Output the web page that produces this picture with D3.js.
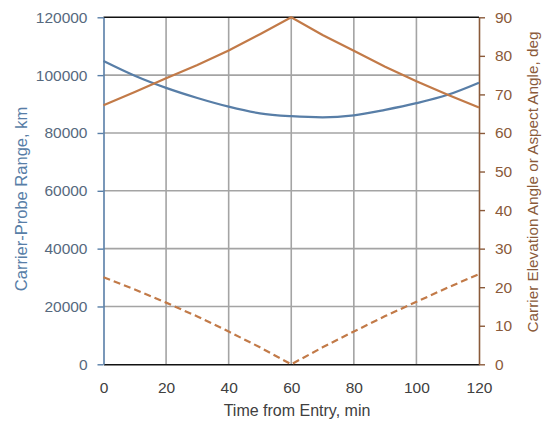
<!DOCTYPE html>
<html>
<head>
<meta charset="utf-8">
<script src="https://cdn.jsdelivr.net/npm/d3@7"></script>
<style>
  html, body { margin: 0; padding: 0; background: #fff; }
  svg { display: block; font-family: "Liberation Sans", Arial, sans-serif; }
</style>
</head>
<body>
<svg id="chart" width="542" height="423"></svg>
<script>
// Time from entry (min)
const timeMin = [0, 10, 20, 30, 40, 50, 60, 70, 80, 90, 100, 110, 120];
// Carrier-probe range (km), left axis
const rangeKm = [104900, 99800, 95600, 92100, 89100, 86800, 85800, 85400, 86100, 88000, 90300, 93200, 97400];
// Carrier elevation angle (deg), right axis
const elevationDeg = [67.2, 70.6, 74.2, 77.6, 81.4, 85.6, 90, 85.4, 81.3, 77.2, 73.4, 69.9, 66.6];
// Aspect angle (deg), right axis
const aspectDeg = [22.6, 19.4, 16.0, 12.4, 8.5, 4.4, 0, 4.4, 8.5, 12.5, 16.2, 19.9, 23.4];

const xTicks = [0, 20, 40, 60, 80, 100, 120];
const yLeftTicks = [0, 20000, 40000, 60000, 80000, 100000, 120000];
const yRightTicks = [0, 10, 20, 30, 40, 50, 60, 70, 80, 90];

const svg = d3.select("#chart");
const m = { left: 103.5, right: 479, top: 17.3, bottom: 364.3 };

const x = d3.scaleLinear().domain([0, 120]).range([m.left, m.right]);
const yL = d3.scaleLinear().domain([0, 120000]).range([m.bottom, m.top]);
const yR = d3.scaleLinear().domain([0, 90]).range([m.bottom, m.top]);

const blue = "#587ea7";
const orange = "#c27a48";
const brown = "#8a5a3a";
const gridCol = "#a4a4a4";
const fontFam = "Liberation Sans, Arial, sans-serif";

// grid
const grid = svg.append("g");
grid.selectAll("line.v").data(xTicks.slice(1, -1)).join("line")
  .attr("x1", d => x(d)).attr("x2", d => x(d))
  .attr("y1", m.top).attr("y2", m.bottom)
  .attr("stroke", gridCol).attr("stroke-width", 1.6);
grid.selectAll("line.h").data(yLeftTicks.slice(1, -1)).join("line")
  .attr("x1", m.left).attr("x2", m.right)
  .attr("y1", d => yL(d)).attr("y2", d => yL(d))
  .attr("stroke", gridCol).attr("stroke-width", 1.6);

// top border
svg.append("line").attr("x1", m.left).attr("x2", m.right)
  .attr("y1", m.top).attr("y2", m.top).attr("stroke", "#111").attr("stroke-width", 1.5);

// bottom axis
const xAxis = svg.append("g").attr("transform", `translate(0,${m.bottom})`)
  .call(d3.axisBottom(x).tickValues(xTicks).tickSize(0).tickPadding(18));
xAxis.select(".domain").attr("stroke", "#111").attr("stroke-width", 1.6);
xAxis.selectAll("text").attr("fill", "#404040").attr("font-size", "15.5px")
  .attr("font-family", fontFam);

// left axis
const lAxis = svg.append("g").attr("transform", `translate(${m.left},0)`)
  .call(d3.axisLeft(yL).tickValues(yLeftTicks).tickFormat(d3.format("d")).tickSizeInner(6).tickSizeOuter(0).tickPadding(10));
lAxis.select(".domain").attr("stroke", blue).attr("stroke-width", 1.6);
lAxis.selectAll(".tick line").attr("stroke", blue).attr("stroke-width", 1.4);
lAxis.selectAll("text").attr("fill", "#56697e").attr("font-size", "15.5px")
  .attr("font-family", fontFam);

// right axis
const rAxis = svg.append("g").attr("transform", `translate(${m.right},0)`)
  .call(d3.axisRight(yR).tickValues(yRightTicks).tickSizeInner(6).tickSizeOuter(0).tickPadding(10));
rAxis.select(".domain").attr("stroke", brown).attr("stroke-width", 1.6);
rAxis.selectAll(".tick line").attr("stroke", brown).attr("stroke-width", 1.4);
rAxis.selectAll("text").attr("fill", brown).attr("font-size", "15.5px")
  .attr("font-family", fontFam);

// series
const rangeLine = d3.line().x((d, i) => x(timeMin[i])).y(d => yL(d)).curve(d3.curveMonotoneX);
const angleLine = d3.line().x((d, i) => x(timeMin[i])).y(d => yR(d));

svg.append("path").datum(rangeKm).attr("d", rangeLine)
  .attr("fill", "none").attr("stroke", blue).attr("stroke-width", 2.2);
svg.append("path").datum(elevationDeg).attr("d", angleLine)
  .attr("fill", "none").attr("stroke", orange).attr("stroke-width", 2.2);
svg.append("path").datum(aspectDeg).attr("d", angleLine)
  .attr("fill", "none").attr("stroke", orange).attr("stroke-width", 2.2)
  .attr("stroke-dasharray", "7,4");

// axis titles
svg.append("text").attr("x", 297).attr("y", 416)
  .attr("text-anchor", "middle").attr("fill", "#404040").attr("font-size", "16px")
  .text("Time from Entry, min");
svg.append("text").attr("transform", "translate(27,199) rotate(-90)")
  .attr("text-anchor", "middle").attr("fill", blue).attr("font-size", "16.5px")
  .text("Carrier-Probe Range, km");
svg.append("text").attr("transform", "translate(538,182) rotate(-90)")
  .attr("text-anchor", "middle").attr("fill", brown).attr("font-size", "15.3px")
  .text("Carrier Elevation Angle or Aspect Angle, deg");
</script>
</body>
</html>
